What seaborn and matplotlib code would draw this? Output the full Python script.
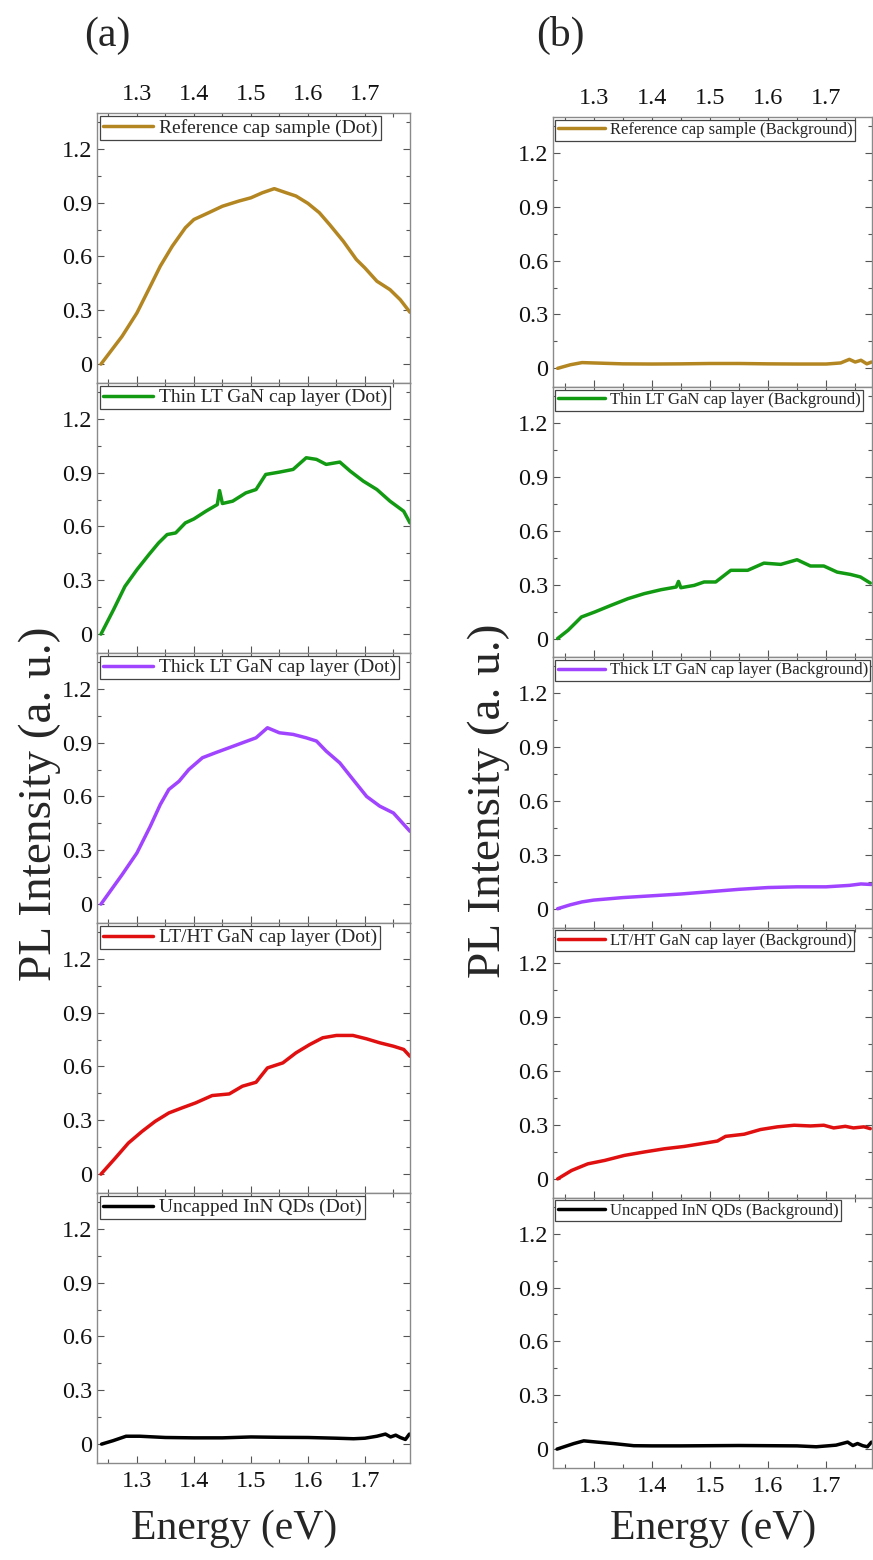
import numpy as np
import pandas as pd
import matplotlib
matplotlib.use("Agg")
import matplotlib.pyplot as plt
from matplotlib.ticker import MultipleLocator, FuncFormatter
import seaborn as sns

# ---- PL spectra, normalised intensity vs photon energy (eV) ----
# Column (a): dot spectra
ref_dot_e = [1.237, 1.274, 1.300, 1.3235, 1.341, 1.362, 1.385, 1.400, 1.426, 1.450, 1.479,
             1.500, 1.520, 1.541, 1.562, 1.579, 1.600, 1.620, 1.638, 1.662, 1.685, 1.700,
             1.721, 1.744, 1.762, 1.779]
ref_dot_i = [0.000, 0.155, 0.285, 0.434, 0.546, 0.657, 0.760, 0.806, 0.844, 0.880, 0.909,
             0.927, 0.955, 0.978, 0.955, 0.937, 0.896, 0.844, 0.778, 0.685, 0.583, 0.536,
             0.462, 0.415, 0.359, 0.289]

thin_dot_e = [1.237, 1.259, 1.279, 1.300, 1.321, 1.338, 1.353, 1.368, 1.385, 1.400, 1.421,
              1.441, 1.445, 1.450, 1.468, 1.491, 1.509, 1.526, 1.550, 1.574, 1.597, 1.615,
              1.632, 1.656, 1.674, 1.697, 1.721, 1.744, 1.768, 1.779]
thin_dot_i = [0.000, 0.136, 0.266, 0.359, 0.443, 0.508, 0.555, 0.564, 0.620, 0.642, 0.685,
              0.722, 0.800, 0.728, 0.741, 0.787, 0.806, 0.890, 0.903, 0.918, 0.983, 0.974,
              0.946, 0.959, 0.909, 0.853, 0.806, 0.741, 0.685, 0.620]

thick_dot_e = [1.237, 1.274, 1.300, 1.3235, 1.341, 1.356, 1.374, 1.391, 1.415, 1.438, 1.462,
               1.485, 1.509, 1.529, 1.550, 1.574, 1.597, 1.615, 1.632, 1.656, 1.679, 1.703,
               1.726, 1.750, 1.779]
thick_dot_i = [0.000, 0.164, 0.285, 0.434, 0.555, 0.639, 0.685, 0.750, 0.816, 0.844, 0.872,
               0.899, 0.927, 0.983, 0.955, 0.946, 0.927, 0.909, 0.853, 0.787, 0.695, 0.600,
               0.546, 0.508, 0.406]

lt_ht_dot_e = [1.237, 1.262, 1.285, 1.309, 1.332, 1.356, 1.379, 1.403, 1.432, 1.462, 1.485,
               1.509, 1.529, 1.556, 1.579, 1.603, 1.626, 1.650, 1.679, 1.703, 1.726, 1.750,
               1.768, 1.779]
lt_ht_dot_i = [0.000, 0.089, 0.173, 0.238, 0.294, 0.341, 0.369, 0.397, 0.438, 0.447, 0.490,
               0.512, 0.592, 0.620, 0.676, 0.722, 0.760, 0.773, 0.773, 0.754, 0.732, 0.713,
               0.695, 0.657]

uncap_dot_e = [1.238, 1.258, 1.281, 1.305, 1.350, 1.400, 1.450, 1.500, 1.550, 1.600, 1.650,
               1.680, 1.700, 1.721, 1.736, 1.745, 1.754, 1.762, 1.771, 1.778]
uncap_dot_i = [0.000, 0.019, 0.044, 0.044, 0.037, 0.035, 0.035, 0.040, 0.038, 0.037, 0.033,
               0.030, 0.033, 0.044, 0.056, 0.040, 0.050, 0.037, 0.026, 0.056]

# Column (b): background spectra
ref_bg_e = [1.238, 1.260, 1.280, 1.300, 1.350, 1.400, 1.450, 1.500, 1.550, 1.600, 1.650,
            1.700, 1.725, 1.740, 1.750, 1.760, 1.770, 1.778]
ref_bg_i = [0.000, 0.020, 0.032, 0.030, 0.025, 0.024, 0.025, 0.027, 0.027, 0.025, 0.024,
            0.024, 0.030, 0.050, 0.035, 0.045, 0.025, 0.035]

thin_bg_e = [1.238, 1.256, 1.279, 1.302, 1.330, 1.359, 1.387, 1.416, 1.442, 1.446, 1.450,
             1.473, 1.490, 1.510, 1.536, 1.565, 1.593, 1.622, 1.650, 1.673, 1.696, 1.719,
             1.742, 1.759, 1.776]
thin_bg_i = [0.000, 0.046, 0.120, 0.148, 0.185, 0.222, 0.250, 0.272, 0.287, 0.318, 0.283,
             0.296, 0.315, 0.315, 0.380, 0.380, 0.420, 0.413, 0.439, 0.404, 0.404, 0.370,
             0.357, 0.343, 0.309]

thick_bg_e = [1.238, 1.260, 1.280, 1.300, 1.350, 1.400, 1.450, 1.500, 1.550, 1.600, 1.650,
              1.700, 1.740, 1.760, 1.778]
thick_bg_i = [0.000, 0.022, 0.038, 0.048, 0.062, 0.072, 0.082, 0.095, 0.108, 0.118, 0.122,
              0.122, 0.130, 0.138, 0.135]

lt_ht_bg_e = [1.238, 1.262, 1.290, 1.319, 1.353, 1.387, 1.422, 1.456, 1.485, 1.513, 1.527,
              1.559, 1.587, 1.616, 1.645, 1.673, 1.696, 1.713, 1.733, 1.747, 1.765, 1.776]
lt_ht_bg_i = [0.000, 0.047, 0.084, 0.103, 0.131, 0.150, 0.168, 0.181, 0.196, 0.211, 0.237,
              0.249, 0.275, 0.290, 0.299, 0.295, 0.299, 0.284, 0.293, 0.284, 0.290, 0.280]

uncap_bg_e = [1.237, 1.266, 1.283, 1.306, 1.334, 1.369, 1.400, 1.450, 1.500, 1.550, 1.600,
              1.650, 1.683, 1.717, 1.737, 1.746, 1.754, 1.763, 1.771, 1.778]
uncap_bg_i = [0.000, 0.031, 0.046, 0.039, 0.031, 0.019, 0.018, 0.018, 0.019, 0.020, 0.019,
              0.018, 0.013, 0.022, 0.039, 0.020, 0.031, 0.019, 0.013, 0.039]

labels_dot = ["Reference cap sample (Dot)", "Thin LT GaN cap layer (Dot)",
              "Thick LT GaN cap layer (Dot)", "LT/HT GaN cap layer (Dot)",
              "Uncapped InN QDs (Dot)"]
labels_bg = ["Reference cap sample (Background)", "Thin LT GaN cap layer (Background)",
             "Thick LT GaN cap layer (Background)", "LT/HT GaN cap layer (Background)",
             "Uncapped InN QDs (Background)"]
colors = ["#b38622", "#129a12", "#a044ff", "#e01010", "#000000"]

dot_series = [(ref_dot_e, ref_dot_i), (thin_dot_e, thin_dot_i), (thick_dot_e, thick_dot_i),
              (lt_ht_dot_e, lt_ht_dot_i), (uncap_dot_e, uncap_dot_i)]
bg_series = [(ref_bg_e, ref_bg_i), (thin_bg_e, thin_bg_i), (thick_bg_e, thick_bg_i),
             (lt_ht_bg_e, lt_ht_bg_i), (uncap_bg_e, uncap_bg_i)]

sns.set_theme(style="ticks")
plt.rcParams["font.family"] = ["Liberation Serif", "DejaVu Serif"]

fig = plt.figure(figsize=(8.73, 15.6), dpi=100)

spine_col = "#8a8a8a"


def y_fmt(v, _):
    if abs(v) < 1e-9:
        return "0"
    return f"{v:.1f}"


def build_column(left, width, bottom, top, series, labels, legend_fs, hlen):
    h = (top - bottom) / 5
    axes = []
    for k in range(5):
        ax = fig.add_axes([left, top - (k + 1) * h, width, h])
        e, inten = series[k]
        df = pd.DataFrame({"Energy": e, "Intensity": inten})
        sns.lineplot(data=df, x="Energy", y="Intensity", ax=ax, color=colors[k],
                     lw=2.5, sort=False, label=labels[k])
        ax.set_xlim(1.23, 1.779)
        ax.set_ylim(-0.105, 1.40)
        ax.set_xlabel("")
        ax.set_ylabel("")
        ax.xaxis.set_major_locator(MultipleLocator(0.1))
        ax.xaxis.set_minor_locator(MultipleLocator(0.05))
        ax.yaxis.set_major_locator(MultipleLocator(0.3))
        ax.yaxis.set_minor_locator(MultipleLocator(0.15))
        ax.yaxis.set_major_formatter(FuncFormatter(y_fmt))
        ax.tick_params(which="both", direction="in", top=True, right=True,
                       bottom=True, left=True, colors="#555555",
                       labelcolor="#111111", labelsize=17.5, width=0.8)
        ax.tick_params(which="major", length=5)
        ax.tick_params(which="minor", length=3)
        ax.tick_params(axis="x", labelbottom=(k == 4), labeltop=(k == 0), pad=6)
        for s in ax.spines.values():
            s.set_color(spine_col)
            s.set_linewidth(1.0)
        leg = ax.legend(loc="upper left", fontsize=legend_fs, frameon=True,
                        fancybox=False, framealpha=1, edgecolor="#444444",
                        borderpad=0.15, borderaxespad=0.15, handlelength=hlen,
                        handletextpad=0.3)
        leg.get_frame().set_linewidth(0.9)
        axes.append(ax)
    return axes


left_axes = build_column(0.1111, 0.3585, 0.0622, 0.9276, dot_series, labels_dot, 14, 2.6)
right_axes = build_column(0.6334, 0.3655, 0.0590, 0.925, bg_series, labels_bg, 12, 2.8)

fig.text(0.045, 0.485, "PL Intensity (a. u.)", rotation=90, ha="center", va="center",
         fontsize=34)
fig.text(0.560, 0.487, "PL Intensity (a. u.)", rotation=90, ha="center", va="center",
         fontsize=34)
fig.text(0.268, 0.020, "Energy (eV)", ha="center", va="center", fontsize=30)
fig.text(0.817, 0.020, "Energy (eV)", ha="center", va="center", fontsize=30)
fig.text(0.123, 0.977, "(a)", ha="center", va="center", fontsize=30)
fig.text(0.642, 0.977, "(b)", ha="center", va="center", fontsize=30)

fig.savefig("out.png", dpi=100)
